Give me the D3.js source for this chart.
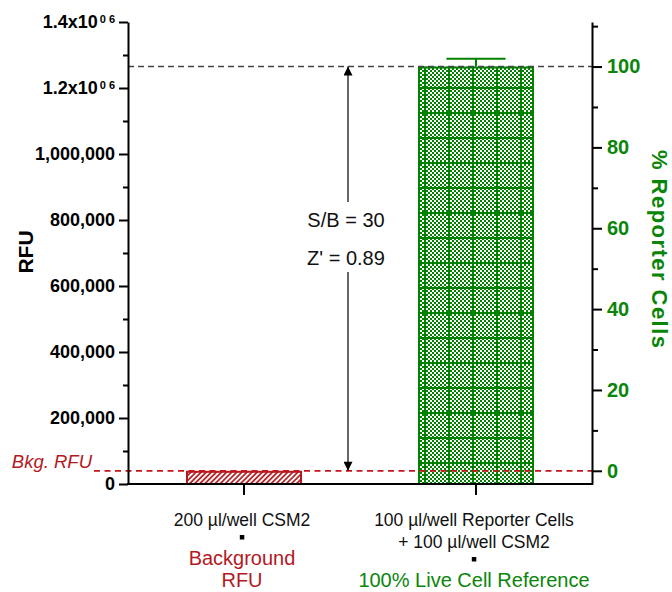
<!DOCTYPE html>
<html><head><meta charset="utf-8">
<script src="https://cdn.jsdelivr.net/npm/d3@7"></script>
<style>
html,body{margin:0;padding:0;background:#fff;}
text{font-family:"Liberation Sans",Arial,Helvetica,sans-serif;}
</style></head>
<body><svg id="chart" width="672" height="592"></svg>
<script>
// ---- data ----
const categories = ["bkg", "ref"];
const categoryLines = [["200 µl/well CSM2"], ["100 µl/well Reporter Cells", "+ 100 µl/well CSM2"]];
const categoryNotes = [["Background", "RFU"], ["100% Live Cell Reference"]];
const rfuValues = [40000, 1265000];
const rfuErrors = [0, 24000];
const leftMajorTicks = [0, 200000, 400000, 600000, 800000, 1000000, 1200000, 1400000];
const leftTickLabels = ["0", "200,000", "400,000", "600,000", "800,000", "1,000,000", "1.2x10", "1.4x10"];
const leftTickSup = ["", "", "", "", "", "", "0 6", "0 6"];
const leftMinorTicks = [100000, 300000, 500000, 700000, 900000, 1100000, 1300000];
const rightMajorTicks = [0, 20, 40, 60, 80, 100];
const rightMinorTicks = [10, 30, 50, 70, 90, 110];
const statLabels = ["S/B = 30", "Z' = 0.89"];
const bkgLabel = "Bkg. RFU";

const RED = "#b3191e", GREEN = "#0a850a", BARGREEN = "#008200";
const svg = d3.select("#chart");
const defs = svg.append("defs");

const y = d3.scaleLinear().domain([0, 1400000]).range([484, 22]);
const bkg = rfuValues[0], ref = rfuValues[1];
const toPct = v => (v - bkg) / (ref - bkg) * 100;
const yR = d3.scaleLinear().domain([toPct(0), toPct(1400000)]).range([484, 22]);
const x = d3.scaleBand().domain(categories).range([128, 592]).paddingInner(0.5).paddingOuter(0.25);

// patterns
const hatch = defs.append("pattern").attr("id", "hatch").attr("patternUnits", "userSpaceOnUse")
  .attr("width", 3.6).attr("height", 3.6).attr("patternTransform", "rotate(45)");
hatch.append("rect").attr("width", 3.6).attr("height", 3.6).attr("fill", "#fff");
hatch.append("line").attr("x1", 0.9).attr("x2", 0.9).attr("y1", 0).attr("y2", 3.6).attr("stroke", RED).attr("stroke-width", 1.7);

const checker = defs.append("pattern").attr("id", "checker").attr("patternUnits", "userSpaceOnUse")
  .attr("width", 4).attr("height", 4);
checker.append("rect").attr("width", 4).attr("height", 4).attr("fill", "#fff");
checker.append("rect").attr("width", 2).attr("height", 2).attr("fill", BARGREEN);
checker.append("rect").attr("x", 2).attr("y", 2).attr("width", 2).attr("height", 2).attr("fill", BARGREEN);

const grid = defs.append("pattern").attr("id", "grid").attr("patternUnits", "userSpaceOnUse")
  .attr("x", 424).attr("y", 87).attr("width", 24).attr("height", 25);
grid.append("rect").attr("x", 0).attr("y", 0).attr("width", 2).attr("height", 25).attr("fill", BARGREEN);
grid.append("rect").attr("x", 0).attr("y", 0).attr("width", 24).attr("height", 2).attr("fill", BARGREEN);

// arrow marker
defs.append("marker").attr("id", "arrow").attr("viewBox", "0 0 10 10").attr("refX", 10).attr("refY", 5)
  .attr("markerUnits", "userSpaceOnUse").attr("markerWidth", 14).attr("markerHeight", 9)
  .attr("orient", "auto-start-reverse")
  .append("path").attr("d", "M0,0 L10,5 L0,10 Z").attr("fill", "#000");

// bars
const bars = svg.append("g");
categories.forEach((c, i) => {
  const x0 = x(c), w = x.bandwidth(), top = y(rfuValues[i]), h = y(0) - y(rfuValues[i]);
  if (i === 0) {
    bars.append("rect").attr("x", x0 + 1).attr("y", top + 1).attr("width", w - 2).attr("height", h - 1)
      .attr("fill", "url(#hatch)").attr("stroke", RED).attr("stroke-width", 2);
  } else {
    bars.append("rect").attr("x", x0).attr("y", top).attr("width", w).attr("height", h).attr("fill", "url(#checker)");
    bars.append("rect").attr("x", x0).attr("y", top).attr("width", w).attr("height", h).attr("fill", "url(#grid)");
    bars.append("rect").attr("x", x0 + 1).attr("y", top + 1).attr("width", w - 2).attr("height", h - 1)
      .attr("fill", "none").attr("stroke", BARGREEN).attr("stroke-width", 2);
  }
  if (rfuErrors[i] > 0) {
    const cx = x(c) + w / 2, ey = y(rfuValues[i] + rfuErrors[i]);
    bars.append("line").attr("x1", cx).attr("x2", cx).attr("y1", top).attr("y2", ey).attr("stroke", BARGREEN).attr("stroke-width", 2);
    bars.append("line").attr("x1", cx - w * 0.255).attr("x2", cx + w * 0.255).attr("y1", ey).attr("y2", ey).attr("stroke", BARGREEN).attr("stroke-width", 2);
  }
});

// dashed reference lines
svg.append("line").attr("x1", 128).attr("x2", 592).attr("y1", y(ref)).attr("y2", y(ref))
  .attr("stroke", "#444").attr("stroke-width", 1.5).attr("stroke-dasharray", "6,4");
svg.append("line").attr("x1", 94).attr("x2", 592).attr("y1", y(bkg)).attr("y2", y(bkg))
  .attr("stroke", "#c4161c").attr("stroke-width", 1.8).attr("stroke-dasharray", "6,4.5");

svg.append("text").attr("x", 92).attr("y", y(bkg) - 3).attr("text-anchor", "end")
  .attr("font-style", "italic").attr("font-size", "18.5px").attr("fill", RED).text(bkgLabel);

// double arrow with stats
const ax = 348;
svg.append("line").attr("x1", ax).attr("x2", ax).attr("y1", 202).attr("y2", y(ref))
  .attr("stroke", "#000").attr("stroke-width", 1.2).attr("marker-end", "url(#arrow)");
svg.append("line").attr("x1", ax).attr("x2", ax).attr("y1", 272).attr("y2", y(bkg))
  .attr("stroke", "#000").attr("stroke-width", 1.2).attr("marker-end", "url(#arrow)");
statLabels.forEach((t, i) => {
  svg.append("text").attr("x", ax - 2).attr("y", 227 + i * 38).attr("text-anchor", "middle")
    .attr("font-size", "20px").attr("fill", "#111").text(t);
});

// left axis
const gL = svg.append("g").attr("transform", "translate(128,0)");
gL.call(d3.axisLeft(y).tickValues(leftMajorTicks).tickSize(9).tickSizeOuter(0).tickPadding(4)
  .tickFormat((d, i) => leftTickLabels[i]));
gL.selectAll(".tick text").each(function (d, i) {
  if (leftTickSup[i]) {
    d3.select(this).append("tspan").attr("dy", "-0.45em").attr("dx", "2").attr("font-size", "11px").text(leftTickSup[i]);
  }
});
const gLm = svg.append("g").attr("transform", "translate(128,0)");
gLm.call(d3.axisLeft(y).tickValues(leftMinorTicks).tickSize(5).tickSizeOuter(0).tickFormat(""));
gLm.select(".domain").remove();
[gL, gLm].forEach(g => {
  g.selectAll("line,path").attr("stroke", "#000").attr("stroke-width", 2);
});
gL.selectAll(".tick text").attr("font-size", "18px").attr("font-weight", "bold").attr("fill", "#000")
  .attr("font-family", "'Liberation Sans',Arial,sans-serif");

// right axis
const gR = svg.append("g").attr("transform", "translate(592,0)");
gR.call(d3.axisRight(yR).tickValues(rightMajorTicks).tickSize(10).tickSizeOuter(0).tickPadding(5).tickFormat(d3.format("d")));
const gRm = svg.append("g").attr("transform", "translate(592,0)");
gRm.call(d3.axisRight(yR).tickValues(rightMinorTicks).tickSize(6).tickSizeOuter(0).tickFormat(""));
gRm.select(".domain").remove();
[gR, gRm].forEach(g => g.selectAll("line,path").attr("stroke", "#000").attr("stroke-width", 2));
gR.selectAll(".tick text").attr("font-size", "20px").attr("font-weight", "bold").attr("fill", GREEN)
  .attr("font-family", "'Liberation Sans',Arial,sans-serif");

// bottom axis
const gB = svg.append("g").attr("transform", "translate(0,484)");
gB.call(d3.axisBottom(x).tickSize(11).tickSizeOuter(0).tickFormat(""));
gB.select(".domain").attr("d", "M127,0H593");
gB.selectAll("line,path").attr("stroke", "#000").attr("stroke-width", 2);

// axis titles
svg.append("text").attr("transform", "translate(33,252) rotate(-90)").attr("text-anchor", "middle")
  .attr("font-size", "21px").attr("font-weight", "bold").attr("fill", "#000").text("RFU");
svg.append("text").attr("transform", "translate(652,249) rotate(90)").attr("text-anchor", "middle")
  .attr("font-size", "22px").attr("font-weight", "bold").attr("fill", GREEN)
  .attr("textLength", 198).attr("lengthAdjust", "spacing").text("% Reporter Cells");

// category labels
categories.forEach((c, i) => {
  const cx = x(c) + x.bandwidth() / 2 - 2;
  let yy = 526;
  categoryLines[i].forEach((t, j) => {
    svg.append("text").attr("x", cx).attr("y", yy + j * 22).attr("text-anchor", "middle")
      .attr("font-size", "17.5px").attr("fill", "#111").text(t);
  });
  const lastY = yy + (categoryLines[i].length - 1) * 22;
  svg.append("rect").attr("x", cx - 2.2).attr("y", lastY + 9).attr("width", 4.5).attr("height", 4.5).attr("fill", "#000");
  const noteColor = i === 0 ? RED : GREEN;
  const nLines = categoryNotes[i].length;
  categoryNotes[i].forEach((t, j) => {
    svg.append("text").attr("x", cx).attr("y", 587 - (nLines - 1 - j) * 22).attr("text-anchor", "middle")
      .attr("font-size", "20px").attr("fill", noteColor).text(t);
  });
});
</script></body></html>
